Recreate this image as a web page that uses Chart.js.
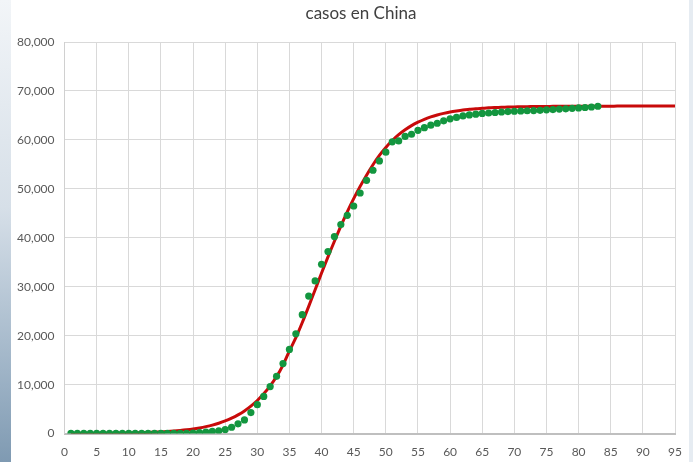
<!DOCTYPE html>
<html>
<head>
<meta charset="utf-8">
<script src="https://cdn.jsdelivr.net/npm/chart.js@4.4.1/dist/chart.umd.min.js"></script>
<style>
  html, body { margin: 0; padding: 0; background: #fff; }
  #wrap { position: relative; width: 693px; height: 462px; overflow: hidden; background: #fff; }
  #leftStrip { position: absolute; left: 0; top: 0; width: 11px; height: 462px;
    background: linear-gradient(to bottom, #f2f5f8 0%, #d6dfe8 45%, #9fb4c7 80%, #7f9ab2 100%); }
  #rightStrip { position: absolute; left: 689px; top: 0; width: 4px; height: 462px; background: #e6ecf2; }
  #canvas { position: absolute; left: 0; top: 0; }
</style>
</head>
<body>
<div id="wrap">
  <div id="leftStrip"></div>
  <div id="rightStrip"></div>
  <canvas id="canvas" width="693" height="470"></canvas>
</div>
<script>
// casos reales (dias 1..83)
const actualCases = [
    27, 27, 27, 41, 41, 41, 41, 41, 41, 41,
    41, 41, 41, 41, 41, 41, 41, 45, 62, 121,
    198, 291, 440, 571, 830, 1300, 2000, 2800, 4300, 5900,
    7600, 9600, 11700, 14300, 17200, 20400, 24300, 28100, 31200, 34600,
    37200, 40250, 42700, 44600, 46500, 49150, 51750, 53800, 55700, 57500,
    59600, 59800, 60700, 61150, 61950, 62500, 63000, 63400, 63900, 64300,
    64600, 64900, 65100, 65250, 65400, 65500, 65600, 65700, 65780, 65850,
    65900, 65950, 66000, 66050, 66150, 66200, 66300, 66350, 66450, 66530,
    66620, 66720, 66870
];
// curva ajustada (dias 1..95)
const modelCases = [
    19, 24, 29, 36, 44, 54, 66, 81, 99, 122,
    150, 184, 226, 278, 341, 418, 514, 631, 773, 946,
    1160, 1420, 1730, 2120, 2580, 3150, 3830, 4640, 5620, 6770,
    8130, 9750, 11650, 14000, 16900, 19600, 22700, 26000, 29400, 32800,
    36100, 39300, 42400, 45300, 48000, 50500, 52800, 54930, 56830, 58460,
    59870, 61070, 62070, 62920, 63620, 64210, 64690, 65090, 65420, 65690,
    65910, 66100, 66240, 66370, 66460, 66550, 66610, 66660, 66710, 66740,
    66770, 66790, 66810, 66830, 66840, 66850, 66860, 66870, 66870, 66880,
    66880, 66890, 66890, 66890, 66890, 66900, 66900, 66900, 66900, 66900,
    66900, 66900, 66900, 66900, 66900
];
const chartTitle = 'casos en China';
const xMax = 95;
const yMax = 80000;
const xStep = 5;
const yStep = 10000;

const toPoints = (arr) => arr.map((v, i) => ({ x: i + 1, y: v }));

// titulo un poco desplazado a la derecha, como en el original
const titlePlugin = {
    id: 'titleText',
    afterDraw(c) {
        const g = c.ctx;
        g.save();
        g.font = '17px Lato';
        g.fillStyle = '#404040';
        g.textAlign = 'center';
        g.textBaseline = 'middle';
        g.fillText(chartTitle, 361, 14);
        g.restore();
    }
};

let ctx = document.getElementById('canvas');
let chart = new Chart(ctx, {
    type: 'scatter',
    data: {
        datasets: [{
            label: 'casos',
            data: toPoints(actualCases),
            backgroundColor: '#13963f',
            borderColor: '#13963f',
            pointRadius: 3.6,
            pointBorderWidth: 0,
            showLine: false,
            order: 1
        }, {
            label: 'modelo',
            data: toPoints(modelCases),
            borderColor: '#c80a0a',
            backgroundColor: '#c80a0a',
            borderWidth: 3,
            pointRadius: 0,
            showLine: true,
            tension: 0.3,
            order: 2
        }]
    },
    options: {
        responsive: false,
        animation: false,
        layout: { padding: { left: 7, right: 18, top: 42, bottom: 0 } },
        plugins: {
            legend: { display: false },
            tooltip: { enabled: false },
            title: { display: false }
        },
        scales: {
            x: {
                type: 'linear',
                min: 0,
                max: xMax,
                ticks: {
                    stepSize: xStep,
                    color: '#595959',
                    font: { family: 'Lato', size: 12 },
                    padding: 11,
                    maxRotation: 0
                },
                grid: { color: '#d9d9d9', drawTicks: false },
                border: { color: '#bfbfbf', width: 2 }
            },
            y: {
                min: 0,
                max: yMax,
                ticks: {
                    stepSize: yStep,
                    color: '#595959',
                    font: { family: 'Lato', size: 12 },
                    padding: 10
                },
                grid: { color: '#d9d9d9', drawTicks: false },
                border: { color: '#d0d0d0', width: 1 }
            }
        }
    },
    plugins: [titlePlugin]
});
</script>
</body>
</html>
